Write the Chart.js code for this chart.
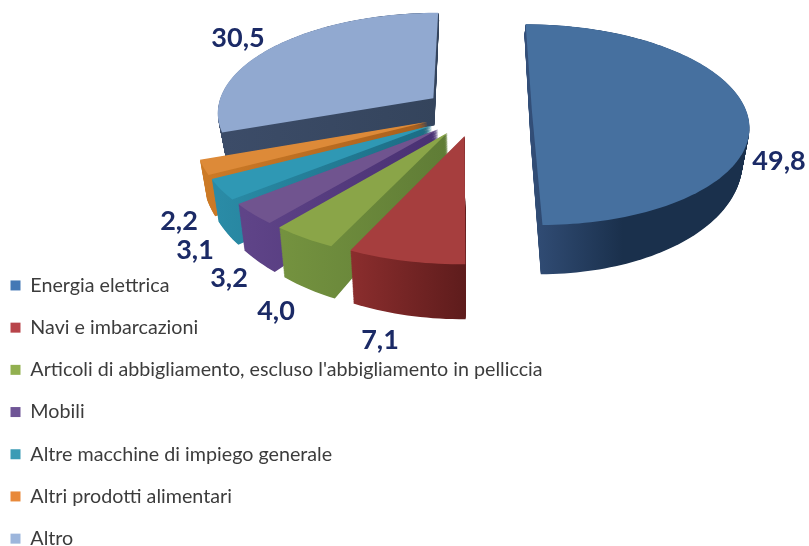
<!DOCTYPE html>
<html>
<head>
<meta charset="utf-8">
<style>
  html, body { margin: 0; padding: 0; background: #fff; }
  #wrap { width: 809px; height: 546px; }
</style>
<script src="https://cdn.jsdelivr.net/npm/chart.js@4"></script>
</head>
<body>
<div id="wrap"><canvas id="pie" width="809" height="546"></canvas></div>
<script>
const categories = [
  "Energia elettrica",
  "Navi e imbarcazioni",
  "Articoli di abbigliamento, escluso l'abbigliamento in pelliccia",
  "Mobili",
  "Altre macchine di impiego generale",
  "Altri prodotti alimentari",
  "Altro",
];
const shares = [49.8, 7.1, 4.0, 3.2, 3.1, 2.2, 30.5];
const shareLabels = ["49,8", "7,1", "4,0", "3,2", "3,1", "2,2", "30,5"];

const legendColors = ["#4478b5", "#b8444a", "#92b050", "#6f5596", "#3b9bb5", "#e8893a", "#9db6dc"];
const topColors = ["#46709f", "#a63e3e", "#8aa548", "#70548f", "#2f98b4", "#dd8a38", "#91a9d0"];
const sideLight = ["#34507a", "#8a2d2d", "#74923f", "#5f4488", "#2a8ba6", "#cc7a26", "#3c4c68"];
const sideDark = ["#1a304c", "#5e1c1c", "#5f7c36", "#483072", "#1b6c84", "#a85f1c", "#34445c"];

// how far each slice is pulled out, and how much of the radius it keeps
const pullOut = [56, 52, 52, 52, 52, 52, 53];
const reach = [0.95, 1, 1, 1, 1, 1, 0.96];

// where the value labels sit (centre of the text)
const labelSpots = [[779, 161], [380, 340], [276, 311], [229, 278], [195, 250], [179, 221], [238, 38]];

// perspective of the tilted pie
const pieX = 476;
const pieY = 112;
const radius = 226;
const tilt = 0.46;
const nearing = 0.134 / radius;

function project(x, y, t) {
  const f = 1 / (1 - nearing * y);
  return [
    pieX + x * f * (1 - 0.025 * t),
    pieY + tilt * y * f + (30 + 0.09 * y) * t,
  ];
}

function traceSlice(ctx, el, i, t) {
  const mid = (el.startAngle + el.endAngle) / 2;
  const ox = Math.cos(mid) * pullOut[i];
  const oy = Math.sin(mid) * pullOut[i];
  const r = el.outerRadius * reach[i];
  const steps = Math.ceil((el.endAngle - el.startAngle) * 40);
  const xs = [];
  ctx.beginPath();
  const tip = project(ox, oy, t);
  ctx.moveTo(tip[0], tip[1]);
  xs.push(tip[0]);
  for (let s = 0; s <= steps; s++) {
    const a = el.startAngle + ((el.endAngle - el.startAngle) * s) / steps;
    const p = project(ox + Math.cos(a) * r, oy + Math.sin(a) * r, t);
    ctx.lineTo(p[0], p[1]);
    xs.push(p[0]);
  }
  ctx.closePath();
  return [Math.min(...xs), Math.max(...xs)];
}

const tiltedPie = {
  id: "tiltedPie",
  beforeDatasetsDraw(chart) {
    const ctx = chart.ctx;
    const arcs = chart.getDatasetMeta(0).data;
    // back to front: Altro first, Energia elettrica last
    for (let i = arcs.length - 1; i >= 0; i--) {
      const el = arcs[i];
      const range = traceSlice(ctx, el, i, 1);
      const side = ctx.createLinearGradient(range[0], 0, range[1], 0);
      side.addColorStop(0, sideLight[i]);
      side.addColorStop(i === 0 ? 0.45 : 1, sideDark[i]);
      side.addColorStop(1, sideDark[i]);
      ctx.fillStyle = side;
      for (let d = 60; d > 0; d--) {
        traceSlice(ctx, el, i, d / 60);
        ctx.fill();
      }
      traceSlice(ctx, el, i, 0);
      ctx.fillStyle = topColors[i];
      ctx.fill();
    }
    return false;
  },
  afterLayout(chart) {
    // legend hugs the left edge and runs down to the bottom of the page
    chart.legend.left -= 12;
    chart.legend.top += 25;
    chart.legend.bottom += 25;
  },
  afterDraw(chart) {
    const ctx = chart.ctx;
    ctx.save();
    ctx.font = "bold 27px Lato";
    ctx.fillStyle = "#1b2a66";
    ctx.textAlign = "center";
    ctx.textBaseline = "middle";
    shareLabels.forEach((text, i) => {
      ctx.fillText(text, labelSpots[i][0], labelSpots[i][1]);
    });
    ctx.restore();
  },
};

new Chart(document.getElementById("pie"), {
  type: "pie",
  data: {
    labels: categories,
    datasets: [
      {
        data: shares,
        backgroundColor: legendColors,
        borderWidth: 0,
        clip: false,
      },
    ],
  },
  options: {
    responsive: false,
    animation: false,
    radius: radius,
    layout: { padding: 0 },
    plugins: {
      tooltip: { enabled: false },
      legend: {
        position: "chartArea",
        align: "end",
        labels: {
          boxWidth: 10,
          boxHeight: 10,
          padding: 22.5,
          color: "#3c3c3c",
          font: { family: "Lato", size: 19.7 },
        },
      },
    },
  },
  plugins: [tiltedPie],
});
</script>
</body>
</html>
